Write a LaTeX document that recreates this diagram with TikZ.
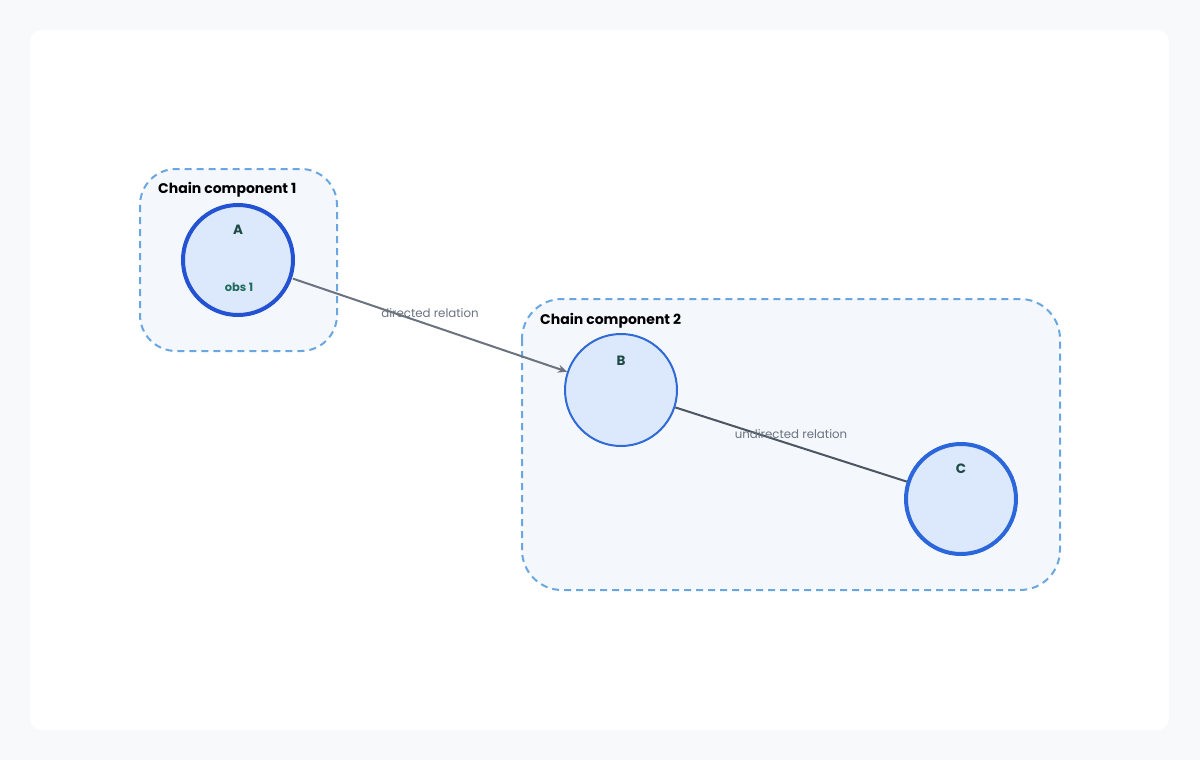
\documentclass[tikz,border=0pt]{standalone}
\usepackage{fontspec}
\setmainfont{Poppins}
\usetikzlibrary{arrows.meta}
\definecolor{pagebg}{HTML}{F7F9FB}
\definecolor{panel}{HTML}{FFFFFF}
\definecolor{clfill}{HTML}{F4F8FD}
\definecolor{cldraw}{HTML}{6AA6E0}
\definecolor{nodefill}{HTML}{DCE9FC}
\definecolor{nodeA}{HTML}{2352D2}
\definecolor{nodeB}{HTML}{2F6AD6}
\definecolor{nodeC}{HTML}{2B66DB}
\definecolor{labtxt}{HTML}{1E4A46}
\definecolor{obstxt}{HTML}{1F6B5C}
\definecolor{edgeA}{HTML}{6B7280}
\definecolor{edgeB}{HTML}{4B5563}
\tikzset{
  cluster/.style={draw=cldraw, fill=clfill, line width=2pt, dash pattern=on 7pt off 5pt, rounded corners=#1},
  vnode/.style={circle, fill=nodefill, minimum size=112pt, inner sep=0pt},
  title/.style={font=\bfseries\fontsize{14}{16}\selectfont, text=black, anchor=west, inner sep=0pt},
  nlab/.style={font=\bfseries\fontsize{13.5}{15}\selectfont, text=labtxt, inner sep=0pt},
  elab/.style={font=\fontsize{11.8}{13}\selectfont, text=edgeA, inner sep=0pt}
}
\begin{document}
\begin{tikzpicture}[x=1pt,y=-1pt]
\fill[pagebg] (0,0) rectangle (1200,760);
\useasboundingbox (0,0) rectangle (1200,760);
\fill[panel, rounded corners=12pt] (30,30) rectangle (1169,730);
% clusters
\draw[cluster=36pt] (140,169) rectangle (337,351);
\draw[cluster=40pt] (522,299) rectangle (1060,590);
\node[title] (t1) at (158,190) {Chain component 1};
\node[title] (t2) at (540,321) {Chain component 2};
% nodes
\node[vnode, draw=nodeA, line width=4pt, minimum size=110pt] (A) at (238,260) {};
\node[vnode, draw=nodeB, line width=2pt] (B) at (621,390) {};
\node[vnode, draw=nodeC, line width=4pt, minimum size=110pt] (C) at (961,499) {};
\node[nlab] (Al) at (238,230) {A};
\node[font=\bfseries\fontsize{11.5}{13}\selectfont, text=obstxt, inner sep=0pt] (Ao) at (239,287) {obs 1};
\node[nlab] (Bl) at (621,361) {B};
\node[nlab] (Cl) at (961,469) {C};
% edges
\draw[edgeA, line width=2pt, -{Stealth[length=9pt,width=8pt]}, shorten <=1pt] (A) -- (B);
\draw[edgeB, line width=2pt] (B) -- (C);
\node[elab] (e1) at (430,313) {directed relation};
\node[elab] (e2) at (791,434) {undirected relation};
\end{tikzpicture}
\end{document}
